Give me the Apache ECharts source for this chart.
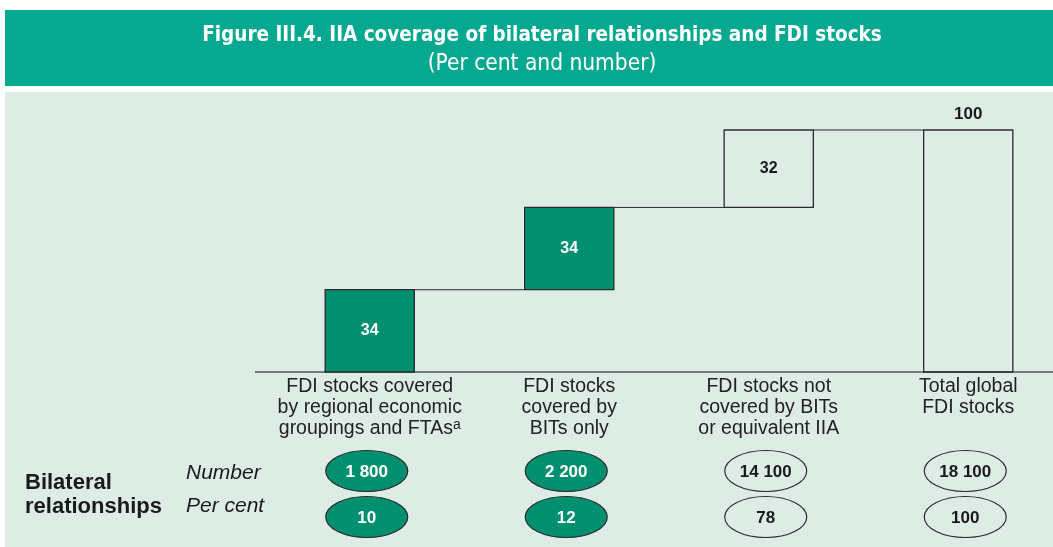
<!DOCTYPE html>
<html>
<head>
<meta charset="utf-8">
<script src="https://cdn.jsdelivr.net/npm/echarts@6/dist/echarts.min.js"></script>
<style>
html,body{margin:0;padding:0;background:#ffffff;}
#main{width:1053px;height:547px;}
</style>
</head>
<body>
<div id="main"></div>
<script>
// ---- data ----
var categories = [
  'FDI stocks covered\nby regional economic\ngroupings and FTAs',
  'FDI stocks\ncovered by\nBITs only',
  'FDI stocks not\ncovered by BITs\nor equivalent IIA',
  'Total global\nFDI stocks'
];
var footnoteMarks = ['a', '', '', ''];
var values = [34, 34, 32, 100];
var isTotal = [false, false, false, true];
var filled = [true, true, false, false];
var bilateralNumber = ['1 800', '2 200', '14 100', '18 100'];
var bilateralPercent = ['10', '12', '78', '100'];

// ---- derived waterfall ranges ----
var ranges = [];
var cum = 0;
for (var i = 0; i < values.length; i++) {
  if (isTotal[i]) { ranges.push([i, 0, values[i]]); }
  else { ranges.push([i, cum, cum + values[i]]); cum += values[i]; }
}
var connectors = [];
for (var j = 0; j < ranges.length - 1; j++) connectors.push([j, ranges[j][2]]);
var ellipseData = categories.map(function (c, k) { return [k]; });

var GREEN = '#00906f';
var DARK = '#2b2b2b';
var FONT = "'Liberation Sans', Arial, sans-serif";

var chart = echarts.init(document.getElementById('main'));
var BAR_FRAC = 0.447;

chart.setOption({
  animation: false,
  backgroundColor: '#ffffff',
  title: {
    text: 'Figure III.4. IIA coverage of bilateral relationships and FDI stocks',
    subtext: '(Per cent and number)',
    left: 542,
    textAlign: 'center',
    padding: 0,
    top: 25,
    itemGap: 7,
    textStyle: { color: '#ffffff', fontFamily: "'DejaVu Sans Condensed', 'DejaVu Sans', sans-serif", fontWeight: 'bold', fontSize: 20.5 },
    subtextStyle: { color: '#ffffff', fontFamily: "'DejaVu Sans Condensed', 'DejaVu Sans', sans-serif", fontWeight: 'normal', fontSize: 22.5 }
  },
  graphic: [
    { type: 'rect', z: -10, shape: { x: 5, y: 10, width: 1048, height: 76 }, style: { fill: '#06a98f' } },
    { type: 'rect', z: -10, shape: { x: 5, y: 92, width: 1048, height: 455 }, style: { fill: '#ddede6' } },
    { type: 'line', z: 1, shape: { x1: 255, y1: 372, x2: 1053, y2: 372 }, style: { stroke: '#555', lineWidth: 1.5 } },
    { type: 'text', left: 25, top: 471, style: { text: 'Bilateral\nrelationships', font: "bold 22px " + FONT, fill: '#1a1a1a', lineHeight: 24 } },
    { type: 'text', left: 186, top: 463, style: { text: 'Number', font: "italic 21px " + FONT, fill: '#1a1a1a' } },
    { type: 'text', left: 186, top: 496, style: { text: 'Per cent', font: "italic 21px " + FONT, fill: '#1a1a1a' } }
  ],
  grid: { left: 270, right: -15, top: 130, bottom: 175, containLabel: false, outerBoundsMode: 'none' },
  xAxis: {
    type: 'category',
    data: categories,
    axisTick: { show: false },
    axisLine: { show: false },
    axisLabel: {
      interval: 0,
      margin: 4,
      color: '#222',
      fontFamily: FONT,
      fontSize: 19.5,
      lineHeight: 21,
      formatter: function (v, idx) {
        return footnoteMarks[idx] ? v + '{sup|' + footnoteMarks[idx] + '}' : v;
      },
      rich: {
        sup: { fontSize: 14, fontFamily: FONT, color: '#222', verticalAlign: 'top', lineHeight: 21, padding: [0, 0, 8, 0] }
      }
    }
  },
  yAxis: { type: 'value', min: 0, max: 100, show: false, splitLine: { show: false } },
  series: [
    {
      type: 'custom',
      z: 3,
      data: connectors,
      renderItem: function (params, api) {
        var k = api.value(0), lv = api.value(1);
        var w = api.size([1, 0])[0] * BAR_FRAC;
        var a = api.coord([k, lv]), b = api.coord([k + 1, lv]);
        return { type: 'line', shape: { x1: a[0] + w / 2, y1: a[1], x2: b[0] - w / 2, y2: b[1] }, style: { stroke: DARK, lineWidth: 1 } };
      }
    },
    {
      type: 'custom',
      z: 4,
      data: ranges,
      renderItem: function (params, api) {
        var k = api.value(0), lo = api.value(1), hi = api.value(2);
        var w = api.size([1, 0])[0] * BAR_FRAC;
        var p0 = api.coord([k, lo]), p1 = api.coord([k, hi]);
        var fill = filled[k];
        var children = [
          { type: 'rect', shape: { x: p0[0] - w / 2, y: p1[1], width: w, height: p0[1] - p1[1] },
            style: { fill: fill ? GREEN : 'rgba(0,0,0,0)', stroke: DARK, lineWidth: 1.3 } }
        ];
        var label = String(values[k]);
        if (isTotal[k]) {
          children.push({ type: 'text', style: { text: label, x: p1[0], y: p1[1] - 16, align: 'center', verticalAlign: 'middle', font: 'bold 17px ' + FONT, fill: '#1a1a1a' } });
        } else {
          children.push({ type: 'text', style: { text: label, x: p0[0], y: (p0[1] + p1[1]) / 2, align: 'center', verticalAlign: 'middle', font: 'bold 16px ' + FONT, fill: fill ? '#ffffff' : '#1a1a1a' } });
        }
        return { type: 'group', children: children };
      }
    },
    {
      type: 'custom',
      z: 4,
      clip: false,
      data: ellipseData,
      renderItem: function (params, api) {
        var k = api.value(0);
        var base = api.coord([k, 0]);
        var fill = filled[k];
        var rows = [[bilateralNumber[k], 99], [bilateralPercent[k], 145]];
        var children = [];
        rows.forEach(function (r) {
          var cy = base[1] + r[1];
          children.push({ type: 'ellipse', shape: { cx: base[0] - 3, cy: cy, rx: 41, ry: 20.5 },
            style: { fill: fill ? GREEN : 'rgba(0,0,0,0)', stroke: DARK, lineWidth: 1.2 } });
          children.push({ type: 'text', style: { text: r[0], x: base[0] - 3, y: cy + 1, align: 'center', verticalAlign: 'middle', font: 'bold 17px ' + FONT, fill: fill ? '#ffffff' : '#1a1a1a' } });
        });
        return { type: 'group', children: children };
      }
    }
  ]
});
</script>
</body>
</html>
